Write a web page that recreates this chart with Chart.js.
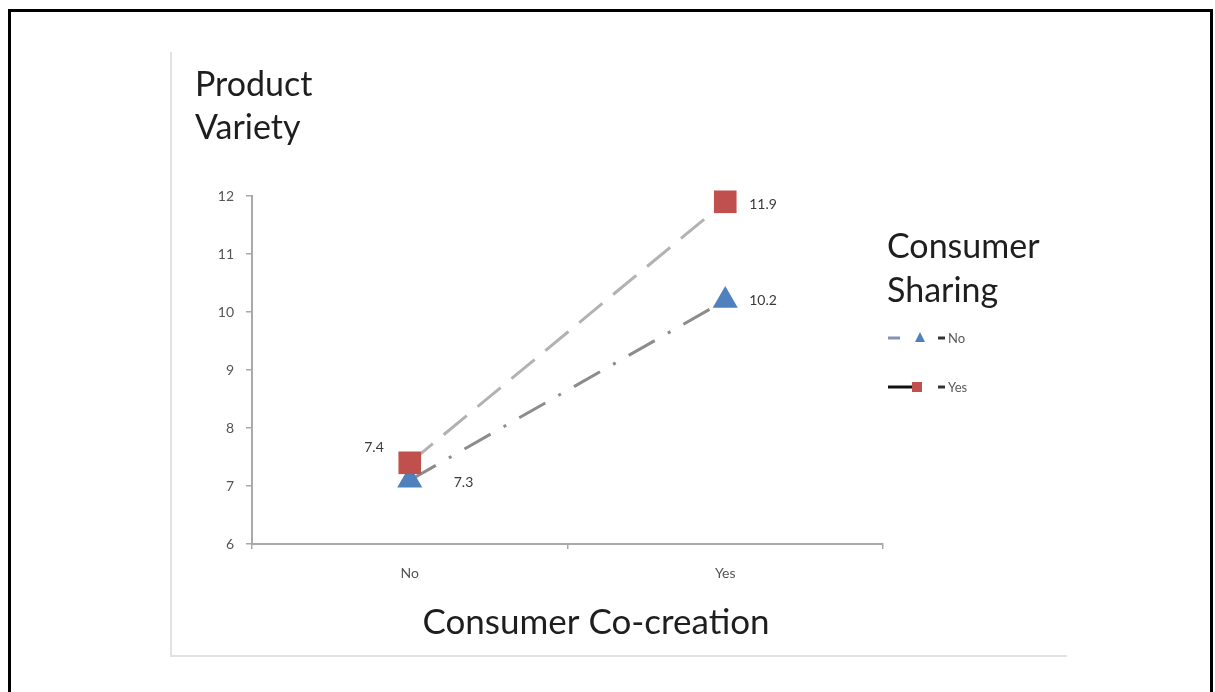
<!DOCTYPE html>
<html>
<head>
<meta charset="utf-8">
<script src="https://cdn.jsdelivr.net/npm/chart.js@4/dist/chart.umd.min.js"></script>
<style>
  html, body { margin: 0; padding: 0; background: #fff; }
  body { width: 1215px; height: 692px; position: relative; overflow: hidden; }
  #frame { position: absolute; left: 8px; top: 9px; width: 1199px; height: 700px;
           border: 3px solid #000; border-bottom: none; }
  #panel { position: absolute; left: 170px; top: 52px; width: 895px; height: 603px;
           border-left: 2px solid #e2e2e2; border-bottom: 2px solid #e2e2e2; }
  #chart { position: absolute; left: 0; top: 0; }
</style>
</head>
<body>
<div id="frame"></div>
<div id="panel"></div>
<canvas id="chart" width="1215" height="692"></canvas>
<script>
// Consumer Co-creation on x, one line per Consumer Sharing level
const categories = ["No", "Yes"];
const seriesNames = ["No", "Yes"];
const sharingNo = [7.1, 10.2];
const sharingYes = [7.4, 11.9];
const sharingNoLabels = ["7.3", "10.2"];
const sharingYesLabels = ["7.4", "11.9"];
const yTicks = [6, 7, 8, 9, 10, 11, 12];

const FONT = "Lato, 'Open Sans', sans-serif";
const axisGray = "#a9a9a9";

// texts around the plot + the odd excel legend
const decorations = {
  id: "decorations",
  afterDatasetsDraw(chart) {
    const ctx = chart.ctx;
    ctx.save();

    // point value labels
    chart.data.datasets.forEach((ds, i) => {
      const meta = chart.getDatasetMeta(i);
      meta.data.forEach((pt, j) => {
        const off = ds.labelOffsets[j];
        ctx.font = "14px " + FONT;
        ctx.fillStyle = "#3a3a3a";
        ctx.textBaseline = "middle";
        ctx.textAlign = off[0] < 0 ? "right" : "left";
        ctx.fillText(ds.pointLabels[j], pt.x + off[0], pt.y + off[1]);
      });
    });

    // titles
    ctx.fillStyle = "#1e1e1e";
    ctx.textBaseline = "alphabetic";
    ctx.textAlign = "left";
    ctx.font = "34px " + FONT;
    ctx.fillText("Product", 195, 96);
    ctx.fillText("Variety", 195, 139);
    ctx.fillText("Consumer", 887, 258);
    ctx.fillText("Sharing", 887, 302);
    ctx.textAlign = "center";
    ctx.font = "35px " + FONT;
    ctx.fillText("Consumer Co-creation", 596, 634);

    // legend
    const rows = [
      { y: 338, lead: "#8592b2", leadTo: 900, marker: "triangle", color: "#4f81bd", name: seriesNames[0] },
      { y: 387, lead: "#111111", leadTo: 913, marker: "rect", color: "#c0504d", name: seriesNames[1] }
    ];
    rows.forEach(r => {
      ctx.strokeStyle = r.lead;
      ctx.lineWidth = 3;
      ctx.beginPath();
      ctx.moveTo(888, r.y);
      ctx.lineTo(r.leadTo, r.y);
      ctx.stroke();
      ctx.strokeStyle = "#333";
      ctx.beginPath();
      ctx.moveTo(938, r.y);
      ctx.lineTo(945, r.y);
      ctx.stroke();
      ctx.fillStyle = r.color;
      ctx.beginPath();
      if (r.marker === "triangle") {
        ctx.moveTo(920, r.y - 6);
        ctx.lineTo(925, r.y + 4);
        ctx.lineTo(915, r.y + 4);
        ctx.closePath();
      } else {
        ctx.rect(912, r.y - 5, 10, 10);
      }
      ctx.fill();
      ctx.fillStyle = "#595959";
      ctx.font = "13px " + FONT;
      ctx.textAlign = "left";
      ctx.textBaseline = "middle";
      ctx.fillText(r.name, 948, r.y + 1);
    });

    ctx.restore();
  }
};

new Chart(document.getElementById("chart"), {
  type: "line",
  data: {
    labels: categories,
    datasets: [
      {
        label: seriesNames[1],
        data: sharingYes,
        pointLabels: sharingYesLabels,
        labelOffsets: [[-26, -15], [24, 3]],
        borderColor: "#b2b2b2",
        borderWidth: 3,
        borderDash: [30, 14],
        pointStyle: "rect",
        pointRadius: 16,
        pointBackgroundColor: "#c0504d",
        pointBorderColor: "#c0504d",
        pointBorderWidth: 0,
        order: 0,
        clip: false
      },
      {
        label: seriesNames[0],
        data: sharingNo,
        pointLabels: sharingNoLabels,
        labelOffsets: [[44, 2], [24, 0]],
        borderColor: "#8c8c8c",
        borderWidth: 3,
        borderDash: [30, 15, 3, 15],
        pointStyle: "triangle",
        pointRadius: 14.5,
        pointBackgroundColor: "#4f81bd",
        pointBorderColor: "#4f81bd",
        pointBorderWidth: 0,
        order: 1,
        clip: false
      }
    ]
  },
  options: {
    responsive: false,
    animation: false,
    layout: { padding: { top: 196, right: 332, bottom: 0, left: 0 } },
    plugins: { legend: { display: false }, tooltip: { enabled: false } },
    scales: {
      x: {
        offset: true,
        grid: { display: true, drawOnChartArea: false, offset: true, tickLength: 5, color: axisGray, lineWidth: 1.5 },
        border: { display: true, color: axisGray, width: 2 },
        ticks: { color: "#555555", font: { family: FONT, size: 14 }, padding: 16 },
        afterFit: s => { s.height = 148; }
      },
      y: {
        min: yTicks[0],
        max: yTicks[yTicks.length - 1],
        afterBuildTicks: s => { s.ticks = yTicks.map(v => ({ value: v })); },
        grid: { display: true, drawOnChartArea: false, tickLength: 6, color: axisGray, lineWidth: 1.5 },
        border: { display: true, color: axisGray, width: 2 },
        ticks: { color: "#555555", font: { family: FONT, size: 14 }, padding: 12 },
        afterFit: s => { s.width = 252; }
      }
    }
  },
  plugins: [decorations]
});
</script>
</body>
</html>
